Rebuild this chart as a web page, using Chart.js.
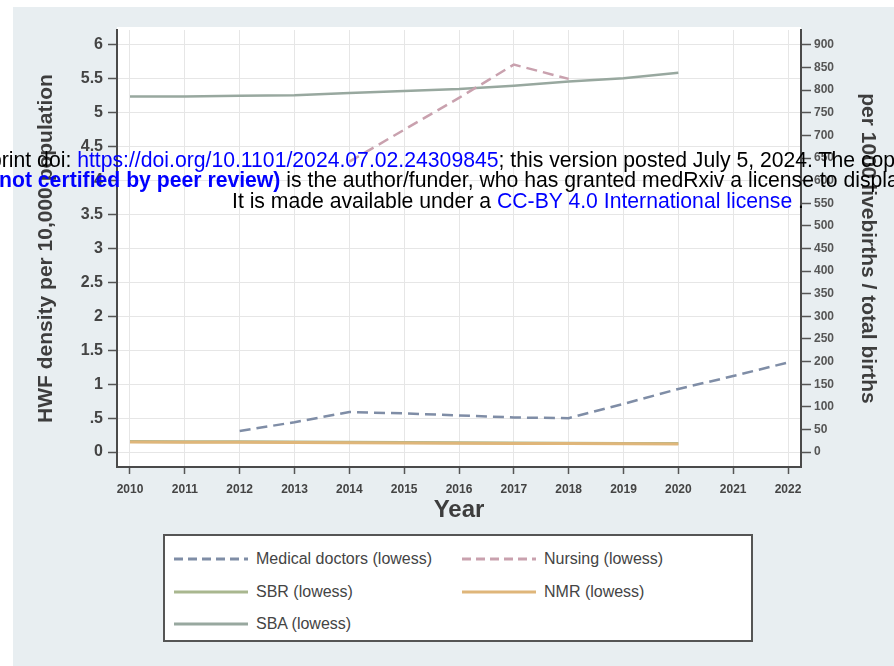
<!DOCTYPE html>
<html>
<head>
<meta charset="utf-8">
<script src="https://cdn.jsdelivr.net/npm/chart.js@4.4.1/dist/chart.umd.min.js"></script>
<style>
html,body{margin:0;padding:0;width:894px;height:666px;overflow:hidden;background:#ffffff;font-family:"Liberation Sans",Arial,sans-serif;}
#panel{position:absolute;left:13px;top:7px;width:881px;height:659px;background:#e8eef1;}
#wrap{position:absolute;left:0;top:0;width:894px;height:530px;}
#legend{position:absolute;left:163px;top:534px;width:586px;height:104px;background:#fff;border:2px solid #555;}
.li{position:absolute;height:20px;}
.li svg{position:absolute;left:0;top:4px;}
.li span{position:absolute;left:83px;top:0;font-size:16px;line-height:20px;color:#444;white-space:nowrap;}
.wm{position:absolute;white-space:nowrap;font-size:21.2px;line-height:20px;color:#000;font-family:"Liberation Sans",Arial,sans-serif;z-index:5;}
.wm .bl{color:#0000ff;}
.wm .bb{color:#0000ff;font-weight:bold;}
</style>
</head>
<body>
<div id="panel"></div>
<div id="wrap"><canvas id="c" width="894" height="530"></canvas></div>
<div id="legend"></div>
<div class="wm" style="left:-10px;top:150px;">print doi: <span class="bl">https://doi.org/10.1101/2024.07.02.24309845</span>; this version posted July 5, 2024. The copyright holder for this preprint</div>
<div class="wm" style="left:-1px;top:170px;"><span class="bb">not certified by peer review)</span> is the author/funder, who has granted medRxiv a license to display the preprint in perpetuity.</div>
<div class="wm" style="left:232px;top:191px;">It is made available under a <span class="bl">CC-BY 4.0 International license</span> .</div>
<script>
// ---- data ----
const xTickYears = [2010,2011,2012,2013,2014,2015,2016,2017,2018,2019,2020,2021,2022];
const leftTicks = [0,0.5,1,1.5,2,2.5,3,3.5,4,4.5,5,5.5,6];
const leftTickLabels = ['0','.5','1','1.5','2','2.5','3','3.5','4','4.5','5','5.5','6'];
const rightTicks = [0,50,100,150,200,250,300,350,400,450,500,550,600,650,700,750,800,850,900];

const doctorsYears = [2012,2013,2014,2015,2016,2017,2018,2019,2020,2021,2022];
const doctorsVals  = [0.31,0.44,0.59,0.57,0.54,0.51,0.50,0.71,0.93,1.12,1.32];

const nursingYears = [2014,2015,2016,2017,2018];
const nursingVals  = [4.28,4.75,5.22,5.71,5.50];

const sbrYears = [2010,2011,2012,2013,2014,2015,2016,2017,2018,2019,2020];
const sbrVals  = [23.5,23.0,22.6,22.1,21.6,21.1,20.7,20.2,19.7,19.2,18.8];

const nmrYears = [2010,2011,2012,2013,2014,2015,2016,2017,2018,2019,2020];
const nmrVals  = [22.0,21.8,21.5,21.0,20.5,20.0,19.6,19.2,18.8,18.3,17.8];

const sbaYears = [2010,2011,2012,2013,2014,2015,2016,2017,2018,2019,2020];
const sbaVals  = [5.24,5.24,5.25,5.26,5.29,5.32,5.35,5.40,5.46,5.51,5.59];

const pts = (xs, ys) => xs.map((x,i)=>({x:x,y:ys[i]}));

const datasets = [
  {label:'Medical doctors (lowess)', data:pts(doctorsYears,doctorsVals), yAxisID:'y', borderColor:'#7f8da6', borderDash:[11,6], borderWidth:2.5, order:1},
  {label:'Nursing (lowess)', data:pts(nursingYears,nursingVals), yAxisID:'y', borderColor:'#c9a1ae', borderDash:[11,6], borderWidth:2.5, order:1},
  {label:'SBR (lowess)', data:pts(sbrYears,sbrVals), yAxisID:'y1', borderColor:'#a9b78f', borderDash:[], borderWidth:3, order:3},
  {label:'NMR (lowess)', data:pts(nmrYears,nmrVals), yAxisID:'y1', borderColor:'#dfb67a', borderDash:[], borderWidth:3, order:2},
  {label:'SBA (lowess)', data:pts(sbaYears,sbaVals), yAxisID:'y', borderColor:'#98a89f', borderDash:[], borderWidth:2.5, order:2}
];

const bgPlugin = {
  id:'bg',
  beforeDraw(chart){
    const {ctx, chartArea:a} = chart;
    ctx.save();
    ctx.fillStyle = '#ffffff';
    ctx.fillRect(a.left, a.top-3, a.right-a.left, a.bottom-a.top+3);
    ctx.restore();
  }
};

const FAM = '"Liberation Sans", Arial, sans-serif';

const chart = new Chart(document.getElementById('c'), {
  type:'line',
  data:{datasets:datasets},
  plugins:[bgPlugin],
  options:{
    responsive:false, animation:false, devicePixelRatio:1,
    layout:{padding:{top:30,left:0,right:0,bottom:0}},
    plugins:{legend:{display:false}, tooltip:{enabled:false}},
    elements:{point:{radius:0}, line:{tension:0, fill:false}},
    scales:{
      x:{
        type:'linear', min:2009.763, max:2022.237,
        afterBuildTicks:s=>{ s.ticks = xTickYears.map(v=>({value:v})); },
        afterFit:s=>{ s.height = 63; },
        grid:{color:'#e6e6e6', tickColor:'#555', tickLength:7, lineWidth:1, tickWidth:1.5},
        border:{color:'#4a4a4a', width:2},
        ticks:{color:'#444', font:{family:FAM, size:12, weight:'bold'}, padding:8, maxRotation:0, autoSkip:false, callback:v=>String(v)},
        title:{display:true, text:'Year', color:'#3d3d3d', font:{family:FAM, size:24, weight:'bold'}, padding:{top:0,bottom:5}}
      },
      y:{
        type:'linear', position:'left', min:-0.22, max:6.22,
        afterBuildTicks:s=>{ s.ticks = leftTicks.map(v=>({value:v})); },
        afterFit:s=>{ s.width = 117; },
        grid:{color:'#e6e6e6', tickColor:'#555', tickLength:9, lineWidth:1, tickWidth:1.5},
        border:{color:'#4a4a4a', width:2},
        ticks:{color:'#444', font:{family:FAM, size:16, weight:'bold'}, padding:5, autoSkip:false,
          callback:(v)=>{ const i = leftTicks.indexOf(v); return i>=0 ? leftTickLabels[i] : ''; }},
        title:{display:true, text:'HWF density per 10,000 population', color:'#3d3d3d', font:{family:FAM, size:21, weight:'bold'}, padding:{top:34,bottom:0}}
      },
      y1:{
        type:'linear', position:'right', min:-33, max:933,
        afterBuildTicks:s=>{ s.ticks = rightTicks.map(v=>({value:v})); },
        afterFit:s=>{ s.width = 93; },
        grid:{drawOnChartArea:false, tickColor:'#555', tickLength:10, tickWidth:1.5},
        border:{color:'#4a4a4a', width:2},
        ticks:{color:'#555', font:{family:FAM, size:12, weight:'bold'}, padding:3, autoSkip:false, callback:v=>String(v)},
        title:{display:true, text:'per 1000 livebirths / total births', color:'#3d3d3d', font:{family:FAM, size:21, weight:'bold'}, padding:{top:14,bottom:0}}
      }
    }
  }
});

// ---- legend (HTML, built from the chart datasets) ----
const legendPos = [
  {l:8,  t:13}, {l:296, t:13},
  {l:8,  t:46}, {l:296, t:46},
  {l:8,  t:78}
];
const legendEl = document.getElementById('legend');
chart.data.datasets.forEach((ds,i)=>{
  const p = legendPos[i];
  const d = document.createElement('div');
  d.className='li';
  d.style.left = p.l+'px'; d.style.top = p.t+'px';
  const dash = ds.borderDash && ds.borderDash.length ? 'stroke-dasharray="9,5"' : '';
  d.innerHTML = '<svg width="76" height="12"><line x1="1" y1="6" x2="75" y2="6" stroke="'+ds.borderColor+'" stroke-width="3" '+dash+'/></svg><span>'+ds.label+'</span>';
  legendEl.appendChild(d);
});
</script>
</body>
</html>
